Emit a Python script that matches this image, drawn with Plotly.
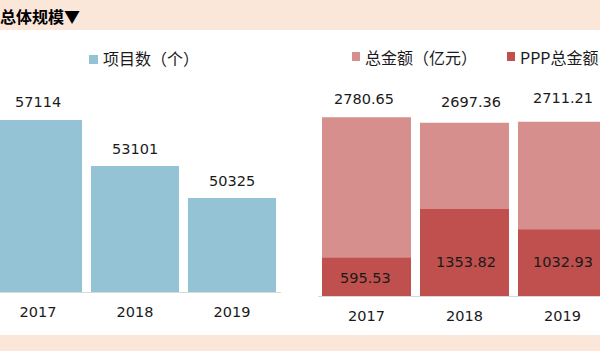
import plotly.graph_objects as go

# ---- data ----
years = ["2017", "2018", "2019"]
project_counts = [57114, 53101, 50325]
total_amount = [2780.65, 2697.36, 2711.21]
ppp_amount = [595.53, 1353.82, 1032.93]
name_count = "项目数（个）"
name_total = "总金额（亿元）"
name_ppp = "PPP总金额"
title_text = "总体规模▼"

# ---- style ----
W, H = 600, 351
PEACH = "#FBE7DA"
BLUE = "#93C3D4"
PINK = "#D78F8D"
RED = "#C0504D"
NUM_FONT = dict(family="DejaVu Sans, Verdana", size=14.5, color="#1a1a1a")

def px_x(p):
    return p / W

def px_y(p):
    return 1 - p / H

fig = go.Figure()

fig.add_trace(go.Bar(x=years, y=project_counts, name=name_count, marker_color=BLUE,
                     marker_line_width=0, xaxis="x", yaxis="y", showlegend=False))
fig.add_trace(go.Bar(x=years, y=total_amount, name=name_total, marker_color=PINK,
                     marker_line_width=0, xaxis="x2", yaxis="y2", showlegend=False))
fig.add_trace(go.Bar(x=years, y=ppp_amount, name=name_ppp, marker_color=RED,
                     marker_line_width=0, xaxis="x2", yaxis="y2", showlegend=False))

annotations = []
# value labels, left (category index positions)
left_dy = [18, 17, 17]
for i, (v, dy) in enumerate(zip(project_counts, left_dy)):
    annotations.append(dict(x=i, y=v, xref="x", yref="y", text=str(v), showarrow=False,
                            yshift=dy, font=NUM_FONT, xanchor="center", yanchor="middle"))
# right totals
tot_dx = [-2.5, 6, 0.5]
tot_dy = [18, 21, 24]
for i, (v, dx, dy) in enumerate(zip(total_amount, tot_dx, tot_dy)):
    annotations.append(dict(x=i, y=v, xref="x2", yref="y2", text=f"{v:.2f}", showarrow=False,
                            xshift=dx, yshift=dy, font=NUM_FONT, xanchor="center", yanchor="middle"))
ppp_dx = [-1.5, 1.5, 0.5]
ppp_dy = [-20, -53, -32]
for i, (v, dx, dy) in enumerate(zip(ppp_amount, ppp_dx, ppp_dy)):
    annotations.append(dict(x=i, y=v, xref="x2", yref="y2", text=f"{v:.2f}", showarrow=False,
                            xshift=dx, yshift=dy, font=NUM_FONT, xanchor="center", yanchor="middle"))

# title
annotations.append(dict(x=px_x(-2), y=px_y(16), xref="paper", yref="paper", text=f"<b>{title_text}</b>",
                        showarrow=False, xanchor="left", yanchor="middle",
                        font=dict(family="Noto Sans CJK SC", size=16, color="#000000")))

# legends (manual)
legend_items = [
    (name_count, BLUE, (89, 98, 55, 64), 101, 58),
    (name_total, PINK, (352, 360, 52, 61), 363, 57),
    (name_ppp, RED, (507, 515, 52, 61), 518, 57),
]
shapes = [
    dict(type="rect", xref="paper", yref="paper", x0=0, x1=1, y0=px_y(335), y1=px_y(30),
         fillcolor="white", line_width=0, layer="below"),
]
for txt, col, (x0, x1, y0, y1), tx, ty in legend_items:
    shapes.append(dict(type="rect", xref="paper", yref="paper", x0=px_x(x0), x1=px_x(x1),
                       y0=px_y(y1), y1=px_y(y0), fillcolor=col, line_width=0))
    annotations.append(dict(x=px_x(tx), y=px_y(ty), xref="paper", yref="paper", text=txt,
                            showarrow=False, xanchor="left", yanchor="middle",
                            font=dict(family="Noto Sans CJK SC", size=16, color="#1a1a1a")))

plot_top = 30
left_base = 292
right_base = 296

common_x = dict(showgrid=False, zeroline=False, showline=True, linecolor="#D9D9D9", linewidth=1,
                ticks="", tickfont=NUM_FONT, ticklabelstandoff=7, fixedrange=True, type="category")
common_y = dict(visible=False, showgrid=False, zeroline=False, fixedrange=True)

fig.update_layout(
    width=W, height=H,
    margin=dict(l=0, r=0, t=0, b=0),
    paper_bgcolor=PEACH,
    plot_bgcolor="rgba(0,0,0,0)",
    barmode="overlay",
    bargap=0.092,
    showlegend=False,
    xaxis=dict(domain=[0, px_x(280.5)], range=[-0.5 + 10.5 / 97, 2.5], anchor="y", **common_x),
    yaxis=dict(domain=[px_y(left_base), px_y(plot_top)], range=[42143, 42143 + (left_base - plot_top) * 87.04],
               anchor="x", **common_y),
    xaxis2=dict(domain=[px_x(317.5), 1], range=[-0.5, 2.5 - 11.5 / 98], anchor="y2", **common_x),
    yaxis2=dict(domain=[px_y(right_base), px_y(plot_top)], range=[0, (right_base - plot_top) * 15.56],
                anchor="x2", **common_y),
    annotations=annotations,
    shapes=shapes,
)

fig.write_html("out.html")
